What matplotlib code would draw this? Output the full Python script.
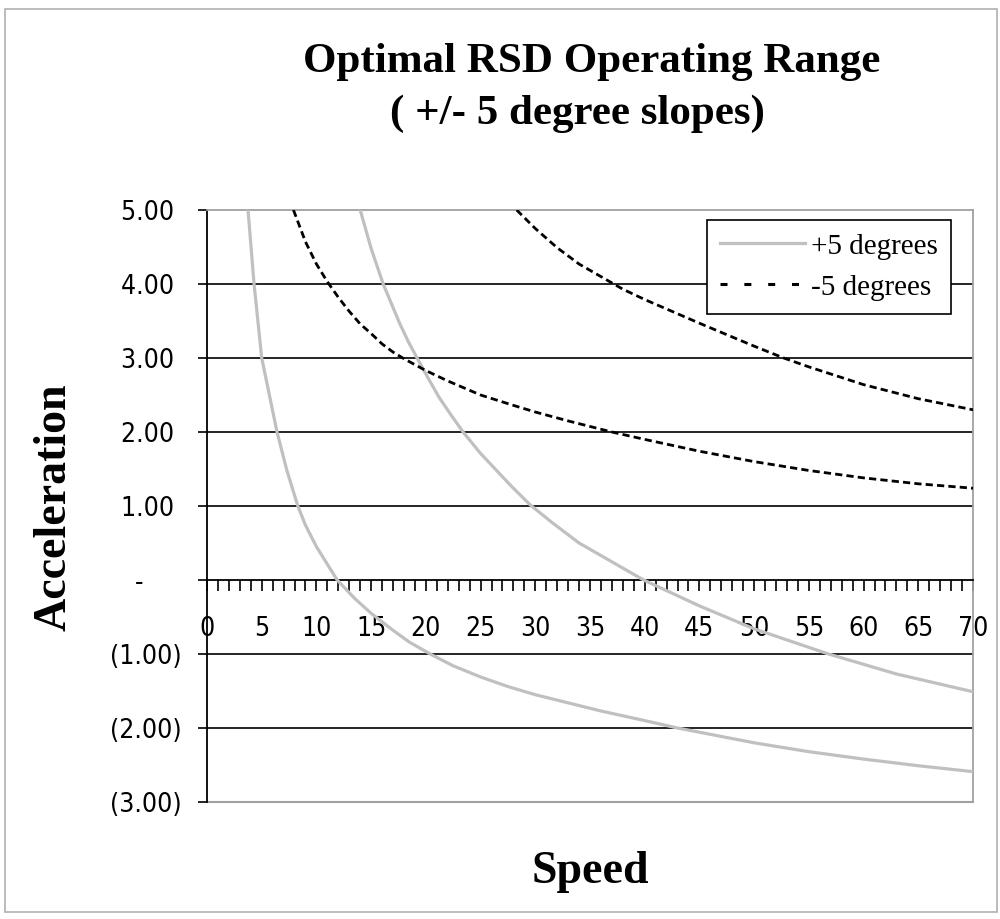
import matplotlib
matplotlib.use("Agg")
import matplotlib.pyplot as plt
from matplotlib.ticker import MultipleLocator, FuncFormatter
from matplotlib.patches import Rectangle
from matplotlib.lines import Line2D

# +5 degree slope curves (gray)
plus_a_speed = [3.75, 4.3, 5.0, 6.4, 7.3, 8.3, 9, 10, 11.9, 13.5, 15, 17, 18.5, 20.4, 22.5,
                25, 27.5, 30, 33, 36, 40, 43, 50, 55, 60, 65, 70]
plus_a_accel = [5.0, 4.0, 3.0, 2.0, 1.48, 1.0, 0.74, 0.45, 0.0, -0.25, -0.45, -0.68, -0.84,
                -1.0, -1.16, -1.31, -1.44, -1.55, -1.66, -1.77, -1.9, -2.0, -2.2, -2.32,
                -2.42, -2.51, -2.59]
plus_b_speed = [14.0, 15.0, 16.1, 17.6, 18.4, 19.2, 20.2, 21.2, 22.3, 23.4, 25, 27.8, 29.5,
                31.5, 34, 39.9, 45, 50, 56.8, 63, 70]
plus_b_accel = [5.0, 4.48, 4.0, 3.47, 3.22, 3.0, 2.73, 2.47, 2.23, 2.0, 1.71, 1.27, 1.02,
                0.78, 0.5, 0.0, -0.35, -0.66, -1.0, -1.27, -1.51]

# -5 degree slope curves (dashed black)
minus_a_speed = [7.9, 9, 10, 11, 12, 13, 14, 15, 16, 17, 18, 20, 22, 25, 28, 30, 33, 37,
                 40, 45, 50, 55, 60, 65, 70]
minus_a_accel = [5.0, 4.57, 4.27, 4.03, 3.82, 3.63, 3.46, 3.33, 3.19, 3.08, 2.99, 2.83,
                 2.69, 2.5, 2.36, 2.27, 2.15, 2.0, 1.9, 1.74, 1.6, 1.48, 1.38, 1.3, 1.24]
minus_b_speed = [28.3, 30, 32, 34, 36, 38, 40, 45, 50, 52.7, 55, 60, 65, 70]
minus_b_accel = [5.0, 4.75, 4.49, 4.27, 4.1, 3.93, 3.79, 3.47, 3.16, 3.0, 2.88, 2.64,
                 2.45, 2.30]

series_names = ["+5 degrees", "-5 degrees"]
title_lines = ["Optimal RSD Operating Range", "( +/- 5 degree slopes)"]

fig = plt.figure(figsize=(10, 9.19), dpi=100)
ax = fig.add_axes([0.207, 1 - 802 / 919, 0.766, 592 / 919])

gray = "#c0c0c0"
dash = (0, (2.6, 1.5))
ax.plot(plus_a_speed, plus_a_accel, color=gray, lw=2.3, zorder=3)
ax.plot(plus_b_speed, plus_b_accel, color=gray, lw=2.3, zorder=3)
ax.plot(minus_a_speed, minus_a_accel, color="black", lw=2.0, ls=dash, zorder=4)
ax.plot(minus_b_speed, minus_b_accel, color="black", lw=2.0, ls=dash, zorder=4)

ax.set_xlim(0, 70)
ax.set_ylim(-3, 5)

# gridlines
for yv in [4, 3, 2, 1, -1, -2]:
    ax.axhline(yv, color="black", lw=1.2, zorder=1)

# spines
ax.spines["bottom"].set_position(("data", 0))
ax.spines["bottom"].set_color("black")
ax.spines["bottom"].set_linewidth(1.3)
ax.spines["left"].set_color("black")
ax.spines["left"].set_linewidth(1.3)
for s in ["top", "right"]:
    ax.spines[s].set_color("#a0a0a0")
    ax.spines[s].set_linewidth(1.3)
ax.axhline(-3, color="#a0a0a0", lw=1.5, zorder=1, clip_on=False)

ax.xaxis.set_major_locator(MultipleLocator(5))
ax.xaxis.set_minor_locator(MultipleLocator(1))
ax.tick_params(axis="x", which="both", direction="out", length=8, width=1.2, pad=18,
               labelsize=19)
ax.tick_params(axis="y", which="major", direction="out", length=6.5, width=1.2, pad=12,
               labelsize=19)
ax.yaxis.set_major_locator(MultipleLocator(1))


# accounting-style labels: positives padded, zero as a dash, negatives in brackets
def fmt(v, pos):
    if abs(v) < 1e-9:
        return "-\u2007\u2007 "
    if v < 0:
        return "(%.2f)" % abs(v)
    return "%.2f " % v


ax.yaxis.set_major_formatter(FuncFormatter(fmt))
for lbl in ax.get_xticklabels() + ax.get_yticklabels():
    lbl.set_fontfamily("DejaVu Sans")
    lbl.set_fontstretch("condensed")

handles = [Line2D([], [], color=gray, lw=2.3),
           Line2D([], [], color="black", lw=2.2, ls=(0, (2.3, 5.5)))]
leg = ax.legend(handles, series_names, loc="upper right", bbox_to_anchor=(0.971, 0.983),
                borderaxespad=0, frameon=True, fancybox=False, edgecolor="black",
                framealpha=1, prop={"family": "Liberation Serif", "size": 21},
                handlelength=2.9, handletextpad=0.2, borderpad=0.45, labelspacing=0.5)
leg.get_frame().set_linewidth(1.2)

fig.text(0.5915, 1 - 62 / 919, title_lines[0], ha="center", va="center",
         family="Liberation Serif", weight="bold", size=31)
fig.text(0.5775, 1 - 114 / 919, title_lines[1], ha="center", va="center",
         family="Liberation Serif", weight="bold", size=31)
fig.text(0.055, 1 - 507 / 919, "Acceleration", rotation=90, ha="center", va="center",
         family="Liberation Serif", weight="bold", size=33)
fig.text(0.59, 1 - 872 / 919, "Speed", ha="center", va="center",
         family="Liberation Serif", weight="bold", size=33)

fig.patches.append(Rectangle((0.005, 0.008), 0.992, 0.982, transform=fig.transFigure,
                             fill=False, edgecolor="#b0b0b0", lw=1.2))

fig.savefig("out.png", dpi=100)
